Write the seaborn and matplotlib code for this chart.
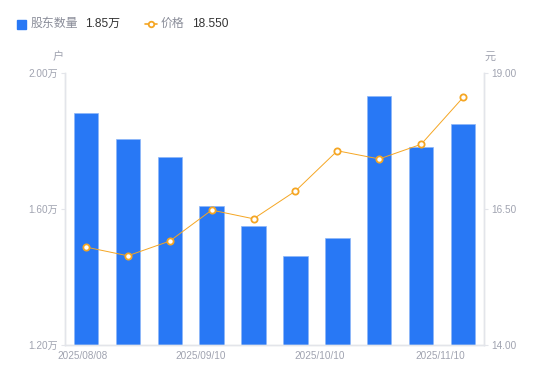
import matplotlib
matplotlib.use("Agg")
import matplotlib.pyplot as plt
from matplotlib.lines import Line2D
from matplotlib.patches import Rectangle
import seaborn as sns
import pandas as pd
import numpy as np

dates = ["2025/08/08", "2025/08/20", "2025/08/29", "2025/09/10", "2025/09/19",
         "2025/09/30", "2025/10/10", "2025/10/20", "2025/10/31", "2025/11/10"]
holders = [1.882, 1.806, 1.753, 1.609, 1.550, 1.462, 1.515, 1.932, 1.782, 1.850]
price = [15.80, 15.64, 15.91, 16.48, 16.32, 16.83, 17.57, 17.42, 17.69, 18.55]
xtick_labels = ["2025/08/08", "2025/09/10", "2025/10/10", "2025/11/10"]
left_ticks = [1.20, 1.60, 2.00]
right_ticks = [14.00, 16.50, 19.00]

sns.set_theme(style="white")
plt.rcParams["font.family"] = ["Liberation Sans", "Noto Sans CJK SC", "DejaVu Sans"]

BLUE = "#2878F5"
ORANGE = "#F5A623"
GRAY = "#A0A3B0"
AXC = "#E3E5EA"

df = pd.DataFrame({"date": dates, "holders": holders, "price": price})
df["pos"] = np.arange(len(df))

fig = plt.figure(figsize=(5.5, 3.81), dpi=100)
ax = fig.add_axes([65 / 550, 1 - 345 / 381, (484 - 65) / 550, (345 - 73) / 381])

sns.barplot(data=df, x="date", y="holders", color=BLUE, width=0.58,
            edgecolor="#8DB6F8", linewidth=0.5, saturation=1, ax=ax)
ax.set_ylim(1.20, 2.00)
ax.set_xlim(-0.5, len(df) - 0.5)
ax.set_yticks(left_ticks)
ax.set_yticklabels([f"{v:.2f}万" for v in left_ticks])

ax2 = ax.twinx()
sns.lineplot(data=df, x="pos", y="price", color=ORANGE, linewidth=0.7,
             marker="o", markersize=4.5, markerfacecolor="white",
             markeredgecolor=ORANGE, markeredgewidth=1.3, ax=ax2)
ax2.set_ylim(14.0, 19.0)
ax2.set_yticks(right_ticks)
ax2.set_yticklabels([f"{v:.2f}" for v in right_ticks])
ax2.set_xlim(-0.5, len(df) - 0.5)

# x tick labels (evenly spaced as in the reference)
tick_pos = [-0.09, 2.75, 5.59, 8.45]
ax.set_xticks(tick_pos)
ax.set_xticklabels(xtick_labels)

for a in (ax, ax2):
    a.set_xlabel("")
    a.set_ylabel("")
    for s in a.spines.values():
        s.set_color(AXC)
        s.set_linewidth(1.0)
    a.spines["top"].set_visible(False)
    a.tick_params(colors=GRAY, labelsize=7.2, length=3, width=0.8)
    a.tick_params(axis="y", color=AXC)
ax.tick_params(axis="x", length=0, pad=4)
ax.tick_params(axis="y", pad=2)
ax2.tick_params(axis="y", pad=2)
ax.grid(False)
ax2.grid(False)

# unit labels
fig.text(58 / 550, 1 - 57 / 381, "户", fontsize=8, color=GRAY, ha="center", va="center")
fig.text(490 / 550, 1 - 57 / 381, "元", fontsize=8, color=GRAY, ha="center", va="center")

# legend
yl = 1 - 24 / 381
fig.patches.append(Rectangle((17 / 550, 1 - 28.5 / 381), 8.5 / 550, 8.5 / 381,
                             transform=fig.transFigure, color=BLUE, figure=fig))
fig.text(31 / 550, yl, "股东数量", fontsize=8.6, color="#8A8D99", va="center", ha="left")
fig.text(85 / 550, yl, "1.85万", fontsize=8.6, color="#333333", va="center", ha="left")
fig.lines.append(Line2D([145 / 550, 157 / 550], [yl, yl], transform=fig.transFigure,
                        color=ORANGE, linewidth=1.2, figure=fig))
fig.lines.append(Line2D([151 / 550], [yl], transform=fig.transFigure, marker="o",
                        markersize=4, markerfacecolor="white", markeredgecolor=ORANGE,
                        markeredgewidth=1.3, figure=fig))
fig.text(161 / 550, yl, "价格", fontsize=8.6, color="#8A8D99", va="center", ha="left")
fig.text(192 / 550, yl, "18.550", fontsize=8.6, color="#333333", va="center", ha="left")

fig.savefig("out.png", dpi=100)
